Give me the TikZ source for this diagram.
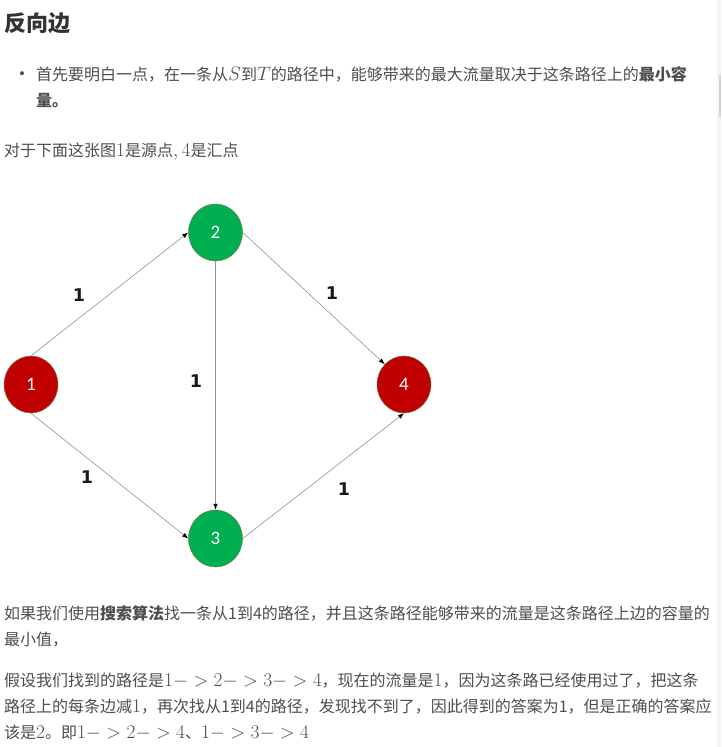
\RequirePackage{fix-cm}
\documentclass[tikz,border=0pt]{standalone}
\usepackage{amsmath}
\usepackage{fontspec}
\newfontfamily\cjk{Noto Sans CJK SC}
\newfontfamily\numfont{DejaVu Sans}
\newfontfamily\nodefont{Carlito}
\usetikzlibrary{arrows.meta, positioning, shapes.geometric}

\definecolor{bodytext}{HTML}{4D4D4D}
\definecolor{headtext}{HTML}{333333}
\definecolor{srcred}{HTML}{C00000}
\definecolor{midgreen}{HTML}{00B050}
\definecolor{rimcol}{HTML}{7F7A45}

% inline formula, a bit larger than the text around it
\newcommand{\kmath}[1]{{\fontsize{19.4}{18}\selectfont$#1$}}

\tikzset{
  txtline/.style={anchor=base west, inner sep=0pt, text=bodytext, font=\cjk\fontsize{16}{18}\selectfont},
  vertex/.style={ellipse, minimum width=54pt, minimum height=57pt, inner sep=0pt, draw=rimcol, line width=0.5pt, text=white, font=\nodefont\fontsize{19}{19}\selectfont},
  wlabel/.style={inner sep=0pt, text=black!90, font=\numfont\bfseries\fontsize{17.5}{17.5}\selectfont},
  flow/.style={draw=gray!85, line width=0.6pt, -{Latex[black, length=6pt, width=4.5pt]}},
}

\begin{document}
\begin{tikzpicture}[>=latex, x=1pt, y=-1pt]
    \useasboundingbox (0, 0) rectangle (721, 747);

    % scroll bar at the right
    \fill[gray!8] (717, 0) rectangle (721, 747);
    \fill[gray!35] (719, 75) rectangle (721, 117);

    % heading and first lines
    \node[txtline, text=headtext, font=\cjk\bfseries\fontsize{22}{24}\selectfont] (title) at (4, 31.5) {反向边};
    \node[text=bodytext, inner sep=0pt, font=\fontsize{18}{18}\selectfont] (dot) at (22, 75) {\textbullet};
    \node[txtline] (bl1) at (36, 80) {首先要明白一点，在一条从\kmath{S}到\kmath{T}的路径中，能够带来的最大流量取决于这条路径上的\textbf{最小容}};
    \node[txtline] (bl2) at (36, 106) {\textbf{量。}};
    \node[txtline] (intro) at (4, 156) {对于下面这张图\kmath{1}是源点\kmath{,4}是汇点};

    % the graph
    \node[vertex, fill=srcred] (n1) at (31, 384.5) {1};
    \node[vertex, fill=midgreen] (n2) at (215.5, 232.5) {2};
    \node[vertex, fill=midgreen] (n3) at (215.5, 538.5) {3};
    \node[vertex, fill=srcred] (n4) at (404, 384.5) {4};

    \draw[flow] (n1.north) -- (n2.west);
    \draw[flow] (n2.east) -- (n4.north west);
    \draw[flow] (n2.south) -- (n3.north);
    \draw[flow] (n1.south) -- (n3.west);
    \draw[flow] (n3.east) -- (n4.south);

    % capacities
    \node[wlabel] (w12) at (79, 295) {1};
    \node[wlabel] (w24) at (332, 293) {1};
    \node[wlabel] (w23) at (196, 381) {1};
    \node[wlabel] (w13) at (87, 477) {1};
    \node[wlabel] (w34) at (344, 489) {1};

    % text below
    \node[txtline] (p1) at (4, 619) {如果我们使用\textbf{搜索算法}找一条从1到4的路径，并且这条路径能够带来的流量是这条路径上边的容量的};
    \node[txtline] (p2) at (4, 645) {最小值，};
    \node[txtline] (p3) at (4, 686) {假设我们找到的路径是\kmath{1->2->3->4}，现在的流量是\kmath{1}，因为这条路已经使用过了，把这条};
    \node[txtline] (p4) at (4, 712) {路径上的每条边减\kmath{1}，再次找从1到4的路径，发现找不到了，因此得到的答案为1，但是正确的答案应};
    \node[txtline] (p5) at (4, 738) {该是\kmath{2}。即\kmath{1->2->4}、\kmath{1->3->4}};

\end{tikzpicture}
\end{document}
